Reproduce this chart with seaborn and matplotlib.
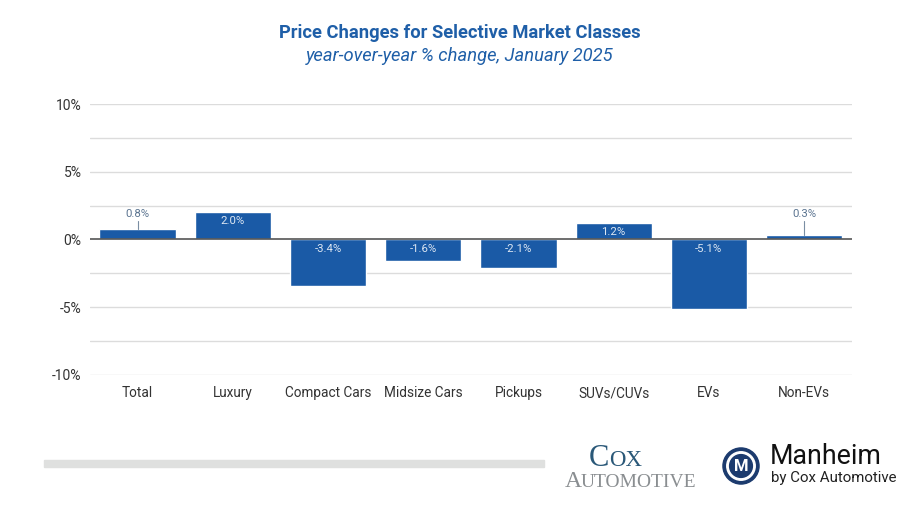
import matplotlib
matplotlib.use("Agg")
import matplotlib.pyplot as plt
import seaborn as sns
import pandas as pd
from matplotlib.patches import Circle, Rectangle

categories = ["Total", "Luxury", "Compact Cars", "Midsize Cars", "Pickups", "SUVs/CUVs", "EVs", "Non-EVs"]
values = [0.8, 2.0, -3.4, -1.6, -2.1, 1.2, -5.1, 0.3]
ytick_vals = [-10, -5, 0, 5, 10]
ytick_labels = ["-10%", "-5%", "0%", "5%", "10%"]
minor_grid = [-7.5, -2.5, 2.5, 7.5]

title = "Price Changes for Selective Market Classes"
subtitle = "year-over-year % change, January 2025"

BAR = "#1a5aa6"
TITLE_C = "#1f5fa8"

sns.set_theme(style="white")
plt.rcParams["font.family"] = ["Roboto", "DejaVu Sans"]

df = pd.DataFrame({"cat": categories, "val": values})

fig = plt.figure(figsize=(9.2, 5.18), dpi=100)
ax = fig.add_axes([0.0978, 0.2761, 0.828, 0.5231])

sns.barplot(data=df, x="cat", y="val", color=BAR, saturation=1, width=0.8, ax=ax, zorder=3)

ax.set_ylim(-10, 10)
ax.set_xlim(-0.5, len(categories) - 0.5)
for g in ytick_vals + minor_grid:
    if g != 0:
        ax.axhline(g, color="#dcdcdc", lw=1.0, zorder=1)
ax.axhline(0, color="#555555", lw=1.2, zorder=4)
ax.set_yticks(ytick_vals)
ax.set_yticklabels(ytick_labels)
ax.tick_params(axis="y", length=0, labelsize=10, labelcolor="#333333", pad=6)
ax.tick_params(axis="x", length=0, labelsize=9.8, labelcolor="#333333", pad=8)
ax.set_xlabel("")
ax.set_ylabel("")
for s in ax.spines.values():
    s.set_visible(False)

for i, v in enumerate(values):
    txt = f"{v:.1f}%"
    if v >= 0 and v < 1.0:
        ax.plot([i, i], [v, 1.4], color="#7a8ea3", lw=0.8, zorder=5)
        ax.text(i, 1.5, txt, ha="center", va="bottom", fontsize=8.2, color="#5b7490", zorder=5)
    elif v > 0:
        ax.text(i, v - 0.25, txt, ha="center", va="top", fontsize=8.2, color="#dde7f3", zorder=5)
    else:
        ax.text(i, -0.35, txt, ha="center", va="top", fontsize=8.2, color="#dde7f3", zorder=5)

fig.text(0.5, 0.936, title, ha="center", va="center", fontsize=13.2, fontweight="bold", color=TITLE_C)
fig.text(0.5, 0.891, subtitle, ha="center", va="center", fontsize=13.2, fontstyle="italic", color=TITLE_C)

# bottom gray bar
fig.patches.append(Rectangle((44 / 920, 1 - 467 / 518), 500 / 920, 7 / 518,
                             transform=fig.transFigure, color="#dfe0df", zorder=1))

# Cox Automotive logo text (small caps look)
serif = ["Liberation Serif", "DejaVu Serif"]
fig.text(589 / 920, 1 - 466 / 518, "C", ha="left", va="baseline", fontsize=22,
         family=serif, color="#2a5878")
fig.text(609 / 920, 1 - 466 / 518, "OX", ha="left", va="baseline", fontsize=16.5,
         family=serif, color="#2a5878")
fig.text(565 / 920, 1 - 487 / 518, "A", ha="left", va="baseline", fontsize=17,
         family=serif, color="#8a8e91")
fig.text(581 / 920, 1 - 487 / 518, "UTOMOTIVE", ha="left", va="baseline", fontsize=14,
         family=serif, color="#8a8e91")

# Manheim logo
lax = fig.add_axes([722 / 920, 1 - 485 / 518, 38 / 920, 38 / 518])
lax.set_xlim(-1, 1)
lax.set_ylim(-1, 1)
lax.set_aspect("equal")
lax.axis("off")
lax.add_patch(Circle((0, 0), 0.95, color="#1c3b6e"))
lax.add_patch(Circle((0, 0), 0.75, color="white"))
lax.add_patch(Circle((0, 0), 0.6, color="#1c3b6e"))
lax.text(0, -0.05, "M", ha="center", va="center", fontsize=12, fontweight="bold", color="white")

fig.text(770 / 920, 1 - 457 / 518, "Manheim", ha="left", va="center", fontsize=19.3, color="#111111")
fig.text(771 / 920, 1 - 478 / 518, "by Cox Automotive", ha="left", va="center", fontsize=10.8, color="#222222")

fig.savefig("out.png", dpi=100, facecolor="white")
